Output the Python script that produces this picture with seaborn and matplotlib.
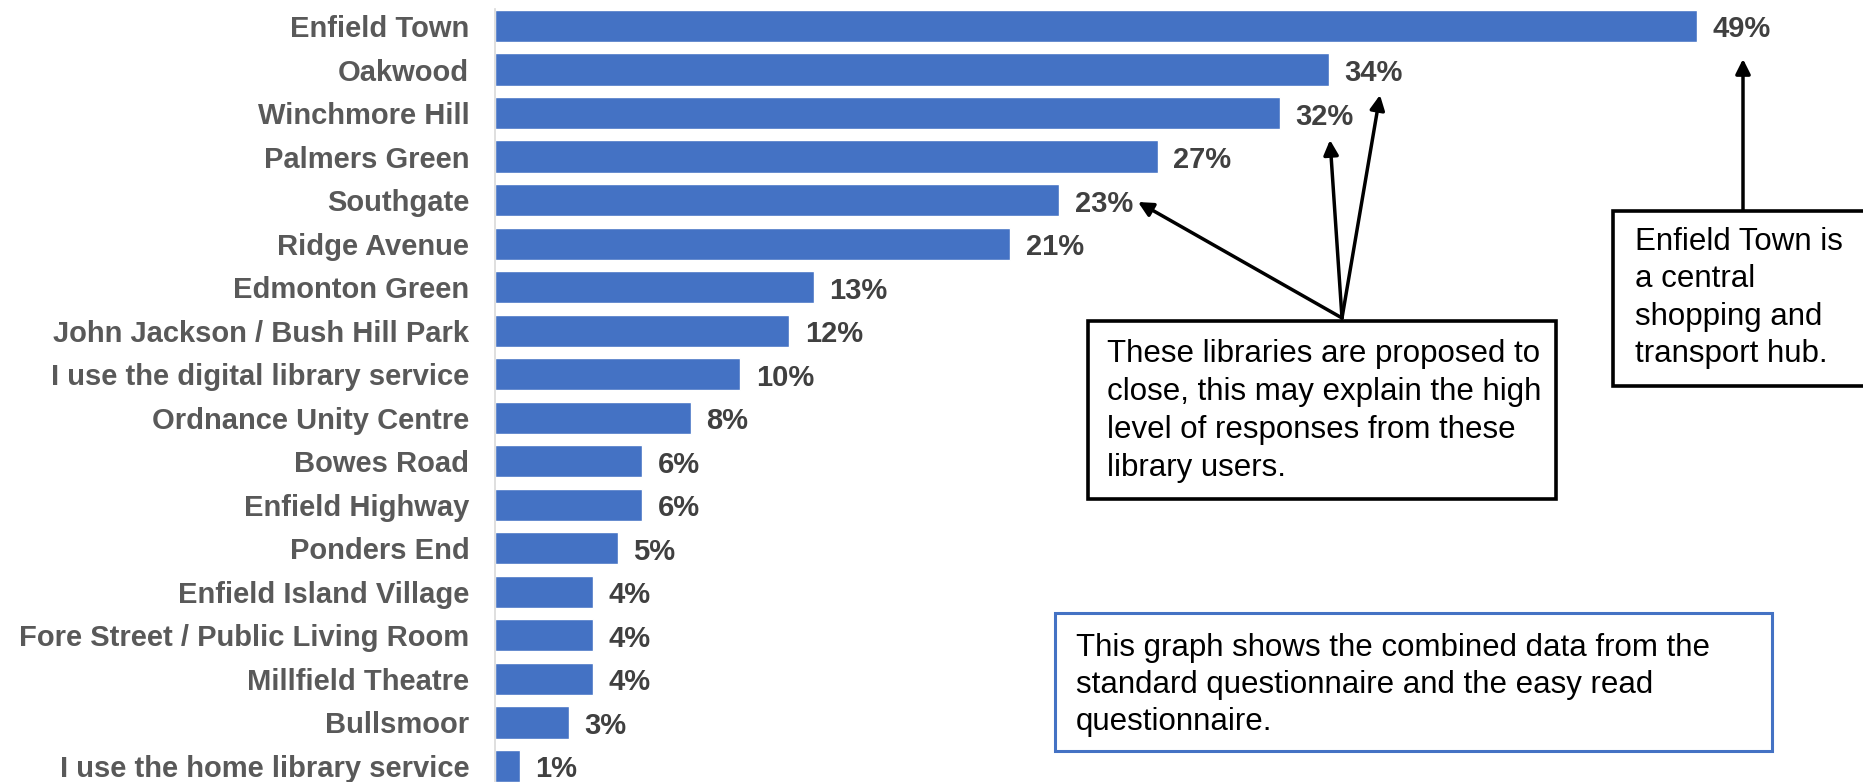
import pandas as pd
import numpy as np
import matplotlib
matplotlib.use("Agg")
import matplotlib.pyplot as plt
import seaborn as sns
from matplotlib.patches import Rectangle

# data
libraries = ['Enfield Town', 'Oakwood', 'Winchmore Hill', 'Palmers Green', 'Southgate',
             'Ridge Avenue', 'Edmonton Green', 'John Jackson / Bush Hill Park',
             'I use the digital library service', 'Ordnance Unity Centre', 'Bowes Road',
             'Enfield Highway', 'Ponders End', 'Enfield Island Village',
             'Fore Street / Public Living Room', 'Millfield Theatre', 'Bullsmoor',
             'I use the home library service']
percent = [49, 34, 32, 27, 23, 21, 13, 12, 10, 8, 6, 6, 5, 4, 4, 4, 3, 1]

note_closing = ("These libraries are proposed to\nclose, this may explain the high\n"
                "level of responses from these\nlibrary users.")
note_town = "Enfield Town is\na central\nshopping and\ntransport hub."
note_data = ("This graph shows the combined data from the\nstandard questionnaire and the easy read\n"
             "questionnaire.")

df = pd.DataFrame({'Library': libraries, 'Percent': percent})

sns.set_theme(style="white")
plt.rcParams['font.family'] = ['Liberation Sans', 'DejaVu Sans']

W, H = 1863, 782
fig = plt.figure(figsize=(W / 100, H / 100), dpi=100)
ax = fig.add_axes([495 / W, 0, 1 - 495 / W, 1])

sns.barplot(data=df, y='Library', x='Percent', orient='h', color='#4472C4',
            saturation=1, width=0.74, ax=ax)

ax.set_xlim(0, (W - 495) / 24.54)
ax.set_ylim(17.368, -0.597)
ax.set_xlabel('')
ax.set_ylabel('')
ax.set_xticks([])
for s in ['top', 'right', 'bottom']:
    ax.spines[s].set_visible(False)
ax.spines['left'].set_color('#D9D9D9')
ax.spines['left'].set_linewidth(1.2)
ax.spines['left'].set_bounds(17.368, -0.38)
ax.tick_params(axis='y', length=0, pad=18.5)
for lbl in ax.get_yticklabels():
    lbl.set_fontsize(21)
    lbl.set_fontweight('bold')
    lbl.set_color('#595959')

vals = ax.bar_label(ax.containers[0], fmt='%d%%', padding=11, fontsize=21,
                    fontweight='bold', color='#404040')
for t in vals:
    t.xyann = (t.xyann[0], -2.5)


def fx(x):
    return x / W


def fy(y):
    return 1 - y / H


def box(x0, y0, x1, y1, color, lw):
    fig.add_artist(Rectangle((fx(x0), fy(y1)), fx(x1 - x0), (y1 - y0) / H,
                             transform=fig.transFigure, fill=True, facecolor='white',
                             edgecolor=color, linewidth=lw, zorder=5))


# annotation boxes
box(1088, 321, 1556, 499, 'black', 2.6)
fig.text(fx(1107), fy(411), note_closing, fontsize=22.5, va='center', ha='left',
         color='black', linespacing=1.34, zorder=6)

box(1613, 211, 1880, 386, 'black', 2.6)
fig.text(fx(1635), fy(298), note_town, fontsize=22.5, va='center', ha='left',
         color='black', linespacing=1.31, zorder=6)

box(1055, 613, 1772, 751, '#4472C4', 2.2)
fig.text(fx(1076), fy(685), note_data, fontsize=22.5, va='center', ha='left',
         color='black', linespacing=1.3, zorder=6)

# arrows
arrow = dict(arrowstyle='-|>', lw=2.5, color='black', mutation_scale=22,
             shrinkA=0, shrinkB=0)
for tx, ty in [(1138, 202), (1330, 140), (1380, 95)]:
    ax.annotate('', xy=(tx, H - ty), xycoords='figure pixels',
                xytext=(1342, H - 318), textcoords='figure pixels', arrowprops=arrow)
ax.annotate('', xy=(1743, H - 59), xycoords='figure pixels',
            xytext=(1743, H - 211), textcoords='figure pixels', arrowprops=arrow)

fig.savefig('out.png', dpi=100)
